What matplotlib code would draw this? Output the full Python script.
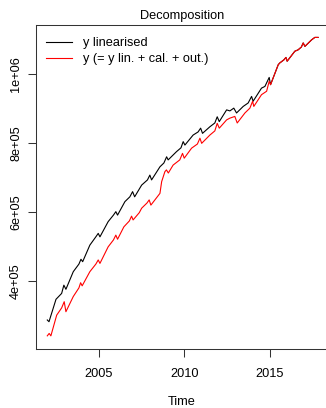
import matplotlib
matplotlib.use("Agg")
from matplotlib import pyplot as plt

plt.rcParams['font.family'] = ['Liberation Sans', 'DejaVu Sans']

# y linearised (key points only; joins the red series after 2015)
lin_time = [2001.98, 2002.08, 2002.49, 2002.82, 2002.95, 2003.07, 2003.50, 2003.83, 2003.95, 2004.05,
            2004.47, 2004.82, 2004.96, 2005.06, 2005.54, 2005.85, 2005.99, 2006.09, 2006.52, 2006.81,
            2006.97, 2007.09, 2007.50, 2007.84, 2007.98, 2008.08, 2008.57, 2008.80, 2008.96, 2009.05,
            2009.54, 2009.80, 2009.93, 2010.03, 2010.51, 2010.80, 2010.95, 2011.06, 2011.49, 2011.78,
            2011.92, 2012.04, 2012.47, 2012.66, 2012.89, 2013.05, 2013.44, 2013.73, 2013.93, 2014.02,
            2014.51, 2014.71, 2014.96, 2015.04]
lin_value = [287, 282, 347, 364, 388, 376, 427, 449, 463, 456,
             504, 528, 538, 528, 572, 591, 601, 591, 630, 644,
             659, 644, 678, 693, 707, 693, 731, 742, 760, 751,
             775, 786, 804, 794, 823, 832, 843, 828, 847, 858,
             876, 862, 896, 893, 901, 887, 906, 916, 935, 921,
             959, 964, 990, 969]

# y (= y lin. + cal. + out.)
y_time = [2001.98, 2002.09, 2002.19, 2002.53, 2002.82, 2002.97, 2003.07, 2003.50, 2003.83, 2003.93,
          2004.02, 2004.47, 2004.82, 2004.96, 2005.06, 2005.54, 2005.85, 2005.99, 2006.09, 2006.46,
          2006.78, 2006.91, 2007.00, 2007.36, 2007.50, 2007.81, 2007.94, 2008.04, 2008.57, 2008.67,
          2008.86, 2008.95, 2009.06, 2009.34, 2009.73, 2009.89, 2009.99, 2010.42, 2010.76, 2010.91,
          2011.01, 2011.49, 2011.78, 2011.92, 2012.04, 2012.47, 2012.66, 2012.95, 2013.09, 2013.54,
          2013.83, 2013.99, 2014.06, 2014.51, 2014.81, 2014.96, 2015.04, 2015.49, 2015.58, 2015.82,
          2015.94, 2016.01, 2016.46, 2016.65, 2016.84, 2016.95, 2017.05, 2017.44, 2017.63, 2017.82]
y_value = [241, 248, 241, 301, 322, 340, 311, 355, 380, 395,
           386, 427, 449, 461, 451, 499, 519, 533, 521, 557,
           574, 588, 577, 598, 611, 626, 635, 620, 654, 688,
           717, 722, 713, 736, 751, 770, 756, 785, 797, 814,
           799, 823, 835, 857, 843, 867, 872, 877, 858, 887,
           901, 921, 906, 940, 950, 979, 969, 1027, 1032, 1041,
           1048, 1037, 1066, 1070, 1078, 1090, 1080, 1099, 1106, 1106]

# after 2015 the linearised series runs under the red one
tail = [i for i, t in enumerate(y_time) if t > 2015.04]
black_t = lin_time + [y_time[i] for i in tail]
black_v = [v * 1000 for v in lin_value] + [y_value[i] * 1000 for i in tail]
red_v = [v * 1000 for v in y_value]

fig = plt.figure(figsize=(3.26, 4.08), dpi=100)
ax = fig.add_axes([36 / 326, 59 / 408, 292 / 326, 324 / 408])

ax.plot(black_t, black_v, color='black', linewidth=0.8, label='y linearised')
ax.plot(y_time, red_v, color='#ff0000', linewidth=0.8, label='y (= y lin. + cal. + out.)')

ax.set_xlim(2001.32, 2018.40)
ax.set_ylim(202900, 1142000)
ax.set_xticks([2005, 2010, 2015])
ax.set_yticks([400000, 600000, 800000, 1000000])
ax.set_yticklabels(['4e+05', '6e+05', '8e+05', '1e+06'], rotation=90, va='center')
ax.tick_params(direction='out', length=6, width=0.75, labelsize=9.2, color='#333333')
ax.tick_params(axis='x', pad=7.5)
ax.tick_params(axis='y', pad=4)
for side in ['left', 'bottom', 'top']:
    ax.spines[side].set_linewidth(0.75)
    ax.spines[side].set_color('#333333')
ax.spines['right'].set_visible(False)

ax.set_title('Decomposition', fontsize=9.2, pad=4.5)
ax.set_xlabel('Time', fontsize=9.2, labelpad=11.5)

ax.legend(loc='upper left', bbox_to_anchor=(0.035, 0.962), frameon=False, fontsize=9.2,
          handlelength=2.0, handletextpad=0.85, labelspacing=0.3, borderpad=0, borderaxespad=0)

plt.savefig('out.png', dpi=100)
plt.close(fig)
